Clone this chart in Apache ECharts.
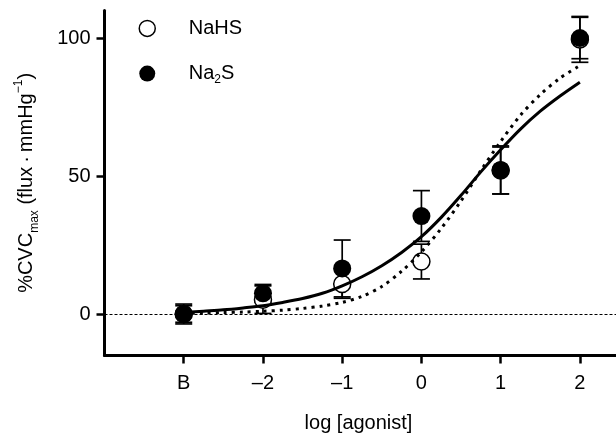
<!DOCTYPE html>
<html>
<head>
<meta charset="utf-8">
<script src="https://cdn.jsdelivr.net/npm/echarts@6/dist/echarts.min.js"></script>
<style>html,body{margin:0;padding:0;background:#fff}#c{width:616px;height:433px}</style>
</head>
<body>
<div id="c"></div>
<script>
const FONT = 'Liberation Sans, Arial, Helvetica, sans-serif';
const xTicks = [-3, -2, -1, 0, 1, 2];
const xTickLabels = ['B', '\u20132', '\u20131', '0', '1', '2'];
const yTicks = [0, 50, 100];
const doseX = [-3, -2, -1, 0, 1, 2];
const nahsMean = [0, 5.2, 10.9, 19.0, 52.0, 99.5];
const nahsErr = [3.0, 5.0, 5.2, 6.3, 8.5, 8.3];
const na2sMean = [0, 7.5, 16.5, 35.5, 52.2, 100.0];
const na2sErr = [3.6, 3.2, 10.3, 9.2, 8.7, 7.5];
const fitX = [-3, -2.75, -2.5, -2.25, -2, -1.75, -1.5, -1.25, -1, -0.75, -0.5, -0.25, 0, 0.25, 0.5, 0.75, 1, 1.25, 1.5, 1.75, 2];
const na2sFit = [0.5, 1.0, 1.5, 2.2, 3.0, 4.2, 5.6, 7.5, 10.2, 13.5, 17.5, 22.3, 28, 35, 43, 51.5, 59.5, 67, 73.5, 79, 84];
const nahsFit = [0.2, 0.3, 0.5, 0.7, 1.0, 1.4, 2.0, 2.9, 4.2, 6.4, 10, 15.5, 22.5, 31, 41, 52, 62.5, 72, 79.5, 85.5, 90];

const pts = (xs, ys) => xs.map((x, i) => [x, ys[i]]);
const errData = (xs, ys, es) => xs.map((x, i) => [x, ys[i], es[i]]);

function errRender(params, api) {
  const x = api.value(0), y = api.value(1), e = api.value(2);
  const top = api.coord([x, y + e]);
  const bot = api.coord([x, y - e]);
  const hw = 8.5;
  const st = { stroke: '#000', lineWidth: 1.7 };
  return {
    type: 'group',
    children: [
      { type: 'line', shape: { x1: top[0], y1: top[1], x2: bot[0], y2: bot[1] }, style: st },
      { type: 'line', shape: { x1: top[0] - hw, y1: top[1], x2: top[0] + hw, y2: top[1] }, style: st },
      { type: 'line', shape: { x1: bot[0] - hw, y1: bot[1], x2: bot[0] + hw, y2: bot[1] }, style: st }
    ]
  };
}

const chart = echarts.init(document.getElementById('c'));
chart.setOption({
  animation: false,
  backgroundColor: '#fff',
  textStyle: { fontFamily: FONT, color: '#000' },
  grid: { left: 104.5, top: 10.4, width: 515, height: 345, outerBoundsMode: 'none', containLabel: false },
  legend: {
    orient: 'vertical', left: 138.5, top: 18.4, padding: 0,
    itemWidth: 16, itemHeight: 16, itemGap: 25.2,
    data: [
      { name: 'NaHS', icon: 'circle', itemStyle: { color: '#fff', borderColor: '#000', borderWidth: 1.5 } },
      { name: 'Na2S', icon: 'circle', itemStyle: { color: '#000', borderWidth: 0 } }
    ],
    formatter: n => n === 'Na2S' ? '{g|}{a|Na}{s|2}{a|S}' : '{g|}{a|NaHS}',
    textStyle: {
      fontFamily: FONT, fontSize: 20, color: '#000',
      rich: {
        g: { width: 28.5 },
        a: { fontSize: 20, lineHeight: 24, fontFamily: FONT, color: '#000' },
        s: { fontSize: 12, lineHeight: 12, verticalAlign: 'bottom', fontFamily: FONT, color: '#000' }
      }
    }
  },
  xAxis: {
    type: 'value', min: -4, max: 2.5,
    name: 'log [agonist]', nameLocation: 'middle', nameGap: 58,
    nameTextStyle: { fontFamily: FONT, fontSize: 20, color: '#000', padding: [0, 7, 0, 0] },
    axisLine: { onZero: false, lineStyle: { color: '#000', width: 3 } },
    axisTick: { customValues: xTicks, length: 8, lineStyle: { color: '#000', width: 2.5 } },
    axisLabel: {
      customValues: xTicks, margin: 18, fontFamily: FONT, fontSize: 20, color: '#000',
      formatter: v => xTickLabels[xTicks.indexOf(v)]
    },
    splitLine: { show: false }
  },
  yAxis: {
    type: 'value', min: -15, max: 110,
    name: '{n|%CVC}{sub|max}{n| (flux\u2009\u00b7\u2009mmHg}{sup|\u22121}{n|)}',
    nameLocation: 'middle', nameRotate: 90, nameGap: 64,
    nameTextStyle: {
      fontFamily: FONT, fontSize: 20, color: '#000',
      rich: {
        n: { fontSize: 20, lineHeight: 28, fontFamily: FONT, color: '#000' },
        sub: { fontSize: 12, lineHeight: 12, verticalAlign: 'bottom', fontFamily: FONT, color: '#000' },
        sup: { fontSize: 12, lineHeight: 16, verticalAlign: 'top', fontFamily: FONT, color: '#000' }
      }
    },
    axisLine: { onZero: false, lineStyle: { color: '#000', width: 3 } },
    axisTick: { customValues: yTicks, length: 8, lineStyle: { color: '#000', width: 2.5 } },
    axisLabel: { customValues: yTicks, margin: 14, fontFamily: FONT, fontSize: 20, color: '#000' },
    splitLine: { show: false }
  },
  series: [
    {
      name: 'zero', type: 'line', data: [], silent: true,
      markLine: {
        silent: true, symbol: ['none', 'none'], label: { show: false },
        lineStyle: { color: '#000', width: 1, type: [3, 2] },
        data: [{ yAxis: 0 }]
      }
    },
    { name: 'errNaHS', type: 'custom', renderItem: errRender, data: errData(doseX, nahsMean, nahsErr), z: 2, silent: true },
    { name: 'errNa2S', type: 'custom', renderItem: errRender, data: errData(doseX, na2sMean, na2sErr), z: 2, silent: true },
    {
      name: 'NaHS', type: 'scatter', data: pts(doseX, nahsMean), symbol: 'circle', symbolSize: 17, z: 3,
      itemStyle: { color: '#fff', borderColor: '#000', borderWidth: 1.5, opacity: 1 }
    },
    {
      name: 'Na2S', type: 'scatter', data: pts(doseX, na2sMean), symbol: 'circle', symbolSize: 18, z: 4,
      itemStyle: { color: '#000', opacity: 1 }
    },
    {
      name: 'fitNaHS', type: 'line', data: pts(fitX, nahsFit), smooth: 0.3, showSymbol: false, z: 5, silent: true,
      lineStyle: { color: '#000', width: 3, type: [3, 5], cap: 'butt' }
    },
    {
      name: 'fitNa2S', type: 'line', data: pts(fitX, na2sFit), smooth: 0.3, showSymbol: false, z: 6, silent: true,
      lineStyle: { color: '#000', width: 3 }
    }
  ]
});
</script>
</body>
</html>
